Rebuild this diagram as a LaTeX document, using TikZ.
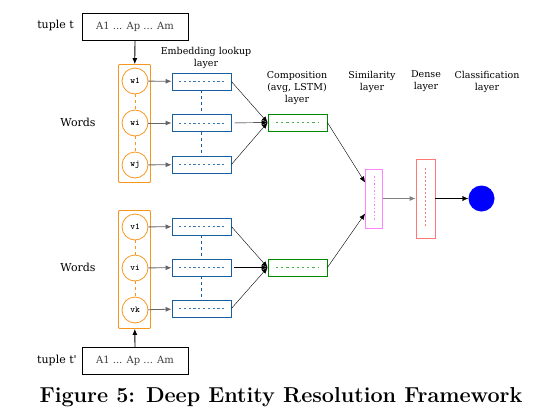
\documentclass[tikz,border=0pt]{standalone}
\usepackage{fontspec}
\newfontfamily\lblfont{DejaVu Serif}
\usetikzlibrary{arrows.meta, positioning}

\definecolor{wordorange}{RGB}{247,150,30}
\definecolor{embblue}{RGB}{25,95,160}
\definecolor{compgreen}{RGB}{0,135,0}
\definecolor{simpink}{RGB}{255,130,255}
\definecolor{densered}{RGB}{255,120,120}

\begin{document}
\begin{tikzpicture}[x=1pt, y=-1pt, >={Latex[length=6pt, width=5pt]},
  every node/.style={font=\lblfont\fontsize{9.5}{12}\selectfont},
  tuplebox/.style={rectangle, draw, thick, minimum width=106pt, minimum height=27pt, text=black!75,
    font=\lblfont\fontsize{10}{12}\selectfont},
  wordframe/.style={rectangle, draw=wordorange, thick, rounded corners=1pt, minimum width=32pt, minimum height=118pt},
  word/.style={circle, draw=wordorange, thick, minimum size=26pt, inner sep=0pt, font=\ttfamily\bfseries\fontsize{9}{9}\selectfont},
  embed/.style={rectangle, draw=embblue, thick, minimum width=59pt, minimum height=17pt,
    path picture={\draw[embblue!85, thick, dash pattern=on 2.2pt off 2.6pt] ([xshift=7pt]path picture bounding box.west) -- ([xshift=-7pt]path picture bounding box.east);}},
  compose/.style={rectangle, draw=compgreen, thick, minimum width=59pt, minimum height=17pt,
    path picture={\draw[compgreen!70, thick, dash pattern=on 2.2pt off 3pt] ([xshift=8pt]path picture bounding box.west) -- ([xshift=-8pt]path picture bounding box.east);}},
  simbox/.style={rectangle, draw=simpink, thick, minimum width=17pt, minimum height=59pt,
    path picture={\draw[simpink, thick, dash pattern=on 1.5pt off 2pt] ([yshift=-7pt]path picture bounding box.north) -- ([yshift=8pt]path picture bounding box.south);}},
  densebox/.style={rectangle, draw=densered, thick, minimum width=19pt, minimum height=79pt,
    path picture={\draw[densered, thick, dash pattern=on 1.5pt off 2.5pt] ([yshift=-9pt]path picture bounding box.north) -- ([yshift=10pt]path picture bounding box.south);}},
  layer/.style={align=center}
]
\useasboundingbox (0,0) rectangle (541,418);
% Tuples
\node[tuplebox] (t1) at (135,26.5) {A1 ... Ap ... Am};
\node (t1lbl) at (55.5,25.5) {\fontsize{11}{12}\selectfont tuple t};
\node[tuplebox] (t2) at (135,361) {A1 ... Ap ... Am};
\node (t2lbl) at (57,360.5) {\fontsize{11}{12}\selectfont tuple t'};
% Words
\node[wordframe] (f1) at (134.5,123.5) {};
\node[word] (w1) at (135,81) {w1};
\node[word] (wi) at (135,123) {wi};
\node[word] (wj) at (135,165) {wj};
\node (words1) at (78,122.5) {\fontsize{11}{12}\selectfont Words};
\node[wordframe] (f2) at (134.5,269.5) {};
\node[word] (v1) at (135,227) {v1};
\node[word] (vi) at (135,268) {vi};
\node[word] (vk) at (135,310) {vk};
\node (words2) at (78,267.5) {\fontsize{11}{12}\selectfont Words};
% Embedding lookup
\node[embed] (e1) at (201.5,81.5) {};
\node[embed] (e2) at (201.5,123) {};
\node[embed] (e3) at (201.5,164.5) {};
\node[embed] (e4) at (201.5,226.5) {};
\node[embed] (e5) at (201.5,267.5) {};
\node[embed] (e6) at (201.5,308.5) {};
% Composition, similarity, dense, classification
\node[compose] (c1) at (297.5,122.5) {};
\node[compose] (c2) at (297.5,267.5) {};
\node[simbox] (sim) at (374,198.5) {};
\node[densebox] (dense) at (425.5,198.5) {};
\node[circle, fill=blue, minimum size=26pt] (cls) at (481.5,198.5) {};
% Layer labels
\node[layer] (embl) at (206,57.5) {Embedding lookup\\layer};
\node[layer] (compl) at (297,88) {Composition\\(avg, LSTM)\\layer};
\node[layer] (siml) at (372,81.5) {Similarity\\layer};
\node[layer] (densel) at (426,81.5) {Dense\\layer};
\node[layer] (clsl) at (487,81.5) {Classification\\layer};
% Caption
\node (cap) at (281,397) {\normalfont\fontsize{21.6}{24}\selectfont\bfseries Figure 5: Deep Entity Resolution Framework};
% Flows
\draw[->, thick] (t1) -- (f1);
\draw[->, thick] (t2) -- (f2);
\draw[wordorange, thick, dashed] (w1) -- (wi);
\draw[wordorange, thick, dashed] (wi) -- (wj);
\draw[wordorange, thick, dashed] (v1) -- (vi);
\draw[wordorange, thick, dashed] (vi) -- (vk);
\draw[embblue, thick, dashed] (e1) -- (e2);
\draw[embblue, thick, dashed] (e2) -- (e3);
\draw[embblue, thick, dashed] (e4) -- (e5);
\draw[embblue, thick, dashed] (e5) -- (e6);
\draw[->, thick, black!60] (w1) -- (e1);
\draw[->, thick, black!60] (wi) -- (e2);
\draw[->, thick, black!60] (wj) -- (e3);
\draw[->, thick, black!60] (v1) -- (e4);
\draw[->, thick, black!60] (vi) -- (e5);
\draw[->, thick, black!60] (vk) -- (e6);
\draw[->] (e1.east) -- (c1.west);
\draw[->, shorten <=3pt] (e2.east) -- (c1.west);
\draw[->] (e3.east) -- (c1.west);
\draw[->] (e4.east) -- (c2.west);
\draw[->, shorten <=3pt] (e5.east) -- (c2.west);
\draw[->] (e6.east) -- (c2.west);
\draw[->] (c1.east) -- ([yshift=16pt]sim.west);
\draw[->] (c2.east) -- ([yshift=-15pt]sim.west);
\draw[->, thick, black!50] (sim) -- (dense);
\draw[->] (dense) -- (cls);
\end{tikzpicture}
\end{document}
